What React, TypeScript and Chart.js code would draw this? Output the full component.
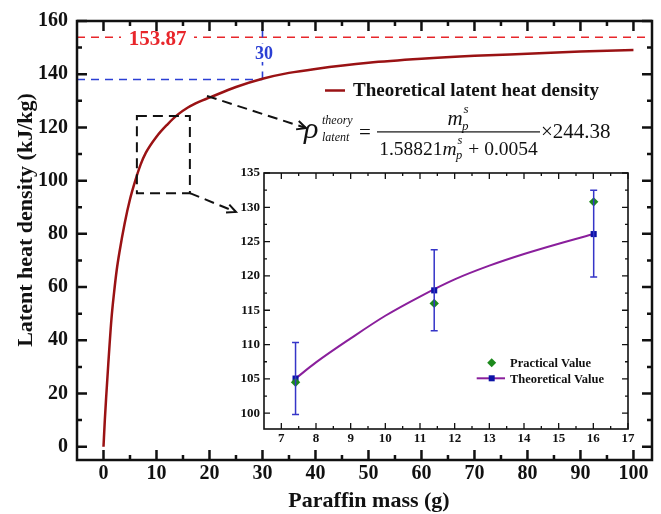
import React, { useEffect, useRef } from "react";
import { Chart, registerables } from "chart.js";

Chart.register(...registerables);

const FONT = '"Liberation Serif", "Times New Roman", Times, serif';

// ---------- main chart data ----------
const paraffinMass = [0, 0.25, 0.5, 0.9, 1.5, 2, 2.5, 3, 4, 5, 6, 7, 8, 10, 12, 14, 16, 18, 20, 25, 30, 35, 40, 50, 60, 70, 80, 90, 100];
const latentHeat = [0, 10, 18.5, 31, 48, 58, 66.5, 73, 84, 93, 100, 106, 110.5, 116.5, 121, 124.8, 127.6, 129.6, 131.2, 135.2, 138.3, 140.5, 142, 144.3, 145.8, 146.9, 147.7, 148.5, 149.1];
const xTickValues = [0, 10, 20, 30, 40, 50, 60, 70, 80, 90, 100];
const xMinorValues = [5, 15, 25, 35, 45, 55, 65, 75, 85, 95];
const yTickValues = [0, 20, 40, 60, 80, 100, 120, 140, 160];
const yMinorValues = [10, 30, 50, 70, 90, 110, 130, 150];
const asymptoteHeat = [153.87];
const markedMass = [30];
const markedHeat = [138];
const asymptoteLabel = ["153.87"];
const markedLabel = ["30"];

// ---------- inset data ----------
const sampleMass = [7.41, 11.41, 16.01];
const practicalValue = [104.5, 116.0, 130.8];
const theoreticalValue = [105.05, 117.9, 126.1];
const errorLow = [99.8, 112.0, 119.85];
const errorHigh = [110.3, 123.8, 132.5];
const insetCurveMass = [7.41, 8, 9, 10, 11, 12, 13, 14, 15, 16.01];
const insetCurveHeat = [105.05, 107.4, 110.9, 114.2, 117.0, 119.5, 121.5, 123.2, 124.7, 126.1];
const insetXTicks = [7, 8, 9, 10, 11, 12, 13, 14, 15, 16, 17];
const insetXMinor = [7.5, 8.5, 9.5, 10.5, 11.5, 12.5, 13.5, 14.5, 15.5, 16.5];
const insetYTicks = [100, 105, 110, 115, 120, 125, 130, 135];
const insetYMinor = [102.5, 107.5, 112.5, 117.5, 122.5, 127.5, 132.5];

const CURVE = "#9a1214";
const RED = "#e8262b";
const BLUE = "#2b3fd4";
const INK = "#111111";
const PURPLE = "#8a1f9c";
const GREEN = "#1d8a1d";
const NAVY = "#0c13a6";
const ERR = "#3535c8";

function drawFrameTicks(ctx, ca, xs, ys, xMaj, xMin, yMaj, yMin, majLen, minLen, lw, tlw) {
  ctx.save();
  ctx.strokeStyle = INK;
  ctx.setLineDash([]);
  ctx.lineWidth = tlw;
  ctx.beginPath();
  const xt = (v, len) => {
    const p = xs.getPixelForValue(v);
    ctx.moveTo(p, ca.bottom);
    ctx.lineTo(p, ca.bottom - len);
    ctx.moveTo(p, ca.top);
    ctx.lineTo(p, ca.top + len);
  };
  const yt = (v, len) => {
    const p = ys.getPixelForValue(v);
    ctx.moveTo(ca.left, p);
    ctx.lineTo(ca.left + len, p);
    ctx.moveTo(ca.right, p);
    ctx.lineTo(ca.right - len, p);
  };
  xMaj.forEach((v) => xt(v, majLen));
  xMin.forEach((v) => xt(v, minLen));
  yMaj.forEach((v) => yt(v, majLen));
  yMin.forEach((v) => yt(v, minLen));
  ctx.stroke();
  ctx.lineWidth = lw;
  ctx.strokeRect(ca.left, ca.top, ca.right - ca.left, ca.bottom - ca.top);
  ctx.restore();
}

function arrow(ctx, x0, y0, x1, y1) {
  ctx.save();
  ctx.strokeStyle = INK;
  ctx.lineWidth = 2;
  ctx.setLineDash([10, 6]);
  ctx.beginPath();
  ctx.moveTo(x0, y0);
  ctx.lineTo(x1, y1);
  ctx.stroke();
  ctx.setLineDash([]);
  const a = Math.atan2(y1 - y0, x1 - x0);
  const L = 10;
  ctx.beginPath();
  ctx.moveTo(x1 - L * Math.cos(a - 0.45), y1 - L * Math.sin(a - 0.45));
  ctx.lineTo(x1, y1);
  ctx.lineTo(x1 - L * Math.cos(a + 0.45), y1 - L * Math.sin(a + 0.45));
  ctx.stroke();
  ctx.restore();
}

function drawMps(ctx, x, base, S, s) {
  ctx.font = `italic ${S}px ${FONT}`;
  ctx.fillText("m", x, base);
  const w = ctx.measureText("m").width;
  ctx.font = `italic ${s}px ${FONT}`;
  ctx.fillText("s", x + w + 1, base - 0.55 * S);
  ctx.fillText("p", x + w - 0.5, base + 0.22 * S);
  return w + Math.max(ctx.measureText("s").width + 1, ctx.measureText("p").width - 0.5) + 1;
}

function measureMps(ctx, S, s) {
  ctx.font = `italic ${S}px ${FONT}`;
  const w = ctx.measureText("m").width;
  ctx.font = `italic ${s}px ${FONT}`;
  return w + Math.max(ctx.measureText("s").width + 1, ctx.measureText("p").width - 0.5) + 1;
}

function drawFormula(ctx) {
  ctx.save();
  ctx.fillStyle = INK;
  ctx.textAlign = "left";
  ctx.textBaseline = "alphabetic";
  ctx.font = `italic 30px ${FONT}`;
  ctx.fillText("ρ", 304, 137.5);
  ctx.font = `italic 12px ${FONT}`;
  ctx.fillText("theory", 322, 124);
  ctx.fillText("latent", 322, 141);
  ctx.font = `21px ${FONT}`;
  ctx.fillText("=", 359, 139);
  const fx0 = 377;
  const fx1 = 540;
  ctx.fillRect(fx0, 131.3, fx1 - fx0, 1.2);
  // numerator
  const nw = measureMps(ctx, 21, 13);
  drawMps(ctx, (fx0 + fx1) / 2 - nw / 2, 125, 21, 13);
  // denominator
  const D = 19.5;
  ctx.font = `${D}px ${FONT}`;
  const w1 = ctx.measureText("1.58821").width;
  const wm = measureMps(ctx, D, 12.5);
  ctx.font = `${D}px ${FONT}`;
  const w2 = ctx.measureText(" + 0.0054").width;
  const total = w1 + wm + w2;
  let dx = (fx0 + fx1) / 2 - total / 2;
  const db = 155;
  ctx.fillText("1.58821", dx, db);
  dx += w1;
  dx += drawMps(ctx, dx, db, D, 12.5);
  ctx.font = `${D}px ${FONT}`;
  ctx.fillText(" + 0.0054", dx, db);
  ctx.font = `21px ${FONT}`;
  ctx.fillText("×244.38", 541, 137.5);
  ctx.restore();
}

const mainDecor = {
  id: "mainDecor",
  beforeDatasetsDraw(chart) {
    const { ctx, chartArea: ca, scales } = chart;
    const xs = scales.x;
    const ys = scales.y;
    ctx.save();
    ctx.lineWidth = 1.6;
    ctx.setLineDash([8, 6]);
    ctx.strokeStyle = RED;
    const yr = ys.getPixelForValue(asymptoteHeat[0]);
    ctx.beginPath();
    ctx.moveTo(ca.left, yr);
    ctx.lineTo(ca.right, yr);
    ctx.stroke();
    ctx.strokeStyle = BLUE;
    const yb = ys.getPixelForValue(markedHeat[0]);
    const xb = xs.getPixelForValue(markedMass[0]);
    ctx.beginPath();
    ctx.moveTo(ca.left, yb);
    ctx.lineTo(xb, yb);
    ctx.moveTo(xb, yb);
    ctx.lineTo(xb, ca.top);
    ctx.stroke();
    ctx.restore();
  },
  afterDraw(chart) {
    const { ctx, chartArea: ca, scales } = chart;
    const xs = scales.x;
    const ys = scales.y;
    ctx.save();
    // red label
    const yr = ys.getPixelForValue(asymptoteHeat[0]);
    ctx.fillStyle = "#fff";
    ctx.fillRect(121, yr - 10, 73, 20);
    ctx.fillStyle = RED;
    ctx.font = `bold 21px ${FONT}`;
    ctx.textAlign = "center";
    ctx.textBaseline = "alphabetic";
    ctx.fillText(asymptoteLabel[0], 157.5, yr + 7.5);
    // blue label
    const xb = xs.getPixelForValue(markedMass[0]);
    ctx.fillStyle = "#fff";
    ctx.fillRect(xb - 10, 44, 22, 18);
    ctx.fillStyle = BLUE;
    ctx.font = `bold 18px ${FONT}`;
    ctx.fillText(markedLabel[0], xb + 1.5, 59);
    ctx.restore();

    drawFrameTicks(ctx, ca, xs, ys, xTickValues, xMinorValues, yTickValues, yMinorValues, 10, 5, 2.5, 2.5);

    // zoom rectangle
    ctx.save();
    ctx.strokeStyle = INK;
    ctx.lineWidth = 2;
    ctx.setLineDash([10, 6]);
    const rx0 = xs.getPixelForValue(6.3);
    const rx1 = xs.getPixelForValue(16.3);
    const ry0 = ys.getPixelForValue(124.3);
    const ry1 = ys.getPixelForValue(95.3);
    ctx.strokeRect(rx0, ry0, rx1 - rx0, ry1 - ry0);
    ctx.restore();
    arrow(ctx, rx1, ry1, 236, 212);
    arrow(ctx, 207, 96, 306, 128);

    // legend
    ctx.save();
    ctx.strokeStyle = CURVE;
    ctx.lineWidth = 2.5;
    ctx.beginPath();
    ctx.moveTo(325, 90.5);
    ctx.lineTo(345, 90.5);
    ctx.stroke();
    ctx.fillStyle = INK;
    ctx.font = `bold 19px ${FONT}`;
    ctx.textAlign = "left";
    ctx.textBaseline = "alphabetic";
    ctx.fillText("Theoretical latent heat density", 353, 96);
    ctx.restore();

    drawFormula(ctx);

    // axis titles
    ctx.save();
    ctx.fillStyle = INK;
    ctx.font = `bold 22px ${FONT}`;
    ctx.textAlign = "center";
    ctx.textBaseline = "alphabetic";
    ctx.fillText("Paraffin mass (g)", 369, 506.5);
    ctx.translate(32, 220);
    ctx.rotate(-Math.PI / 2);
    ctx.fillText("Latent heat density (kJ/kg)", 0, 0);
    ctx.restore();
  },
};

const insetDecor = {
  id: "insetDecor",
  beforeDatasetsDraw(chart) {
    const { ctx, chartArea: ca } = chart;
    ctx.save();
    ctx.fillStyle = "#fff";
    ctx.fillRect(ca.left, ca.top, ca.right - ca.left, ca.bottom - ca.top);
    ctx.restore();
  },
  afterDatasetsDraw(chart) {
    const { ctx, scales } = chart;
    const xs = scales.x;
    const ys = scales.y;
    // error bars
    ctx.save();
    ctx.strokeStyle = ERR;
    ctx.lineWidth = 1.5;
    ctx.beginPath();
    sampleMass.forEach((m, i) => {
      const px = xs.getPixelForValue(m);
      const lo = ys.getPixelForValue(errorLow[i]);
      const hi = ys.getPixelForValue(errorHigh[i]);
      ctx.moveTo(px, lo);
      ctx.lineTo(px, hi);
      ctx.moveTo(px - 3.5, lo);
      ctx.lineTo(px + 3.5, lo);
      ctx.moveTo(px - 3.5, hi);
      ctx.lineTo(px + 3.5, hi);
    });
    ctx.stroke();
    ctx.restore();
  },
  afterDraw(chart) {
    const { ctx, chartArea: ca, scales } = chart;
    drawFrameTicks(ctx, ca, scales.x, scales.y, insetXTicks, insetXMinor, insetYTicks, insetYMinor, 6, 3, 1.6, 1.3);
    // legend
    ctx.save();
    const dx = 266.7;
    const y1 = 202.7;
    const y2 = 218.3;
    ctx.fillStyle = GREEN;
    ctx.beginPath();
    ctx.moveTo(dx, y1 - 4.5);
    ctx.lineTo(dx + 4.5, y1);
    ctx.lineTo(dx, y1 + 4.5);
    ctx.lineTo(dx - 4.5, y1);
    ctx.closePath();
    ctx.fill();
    ctx.strokeStyle = PURPLE;
    ctx.lineWidth = 2;
    ctx.beginPath();
    ctx.moveTo(251.7, y2);
    ctx.lineTo(280, y2);
    ctx.stroke();
    ctx.fillStyle = NAVY;
    ctx.fillRect(dx - 3, y2 - 3, 6, 6);
    ctx.fillStyle = INK;
    ctx.font = `bold 12.5px ${FONT}`;
    ctx.textAlign = "left";
    ctx.textBaseline = "alphabetic";
    ctx.fillText("Practical Value", 285, y1 + 4.3);
    ctx.fillText("Theoretical Value", 285, y2 + 4.3);
    ctx.restore();
  },
};

function tickFont(size) {
  return { family: FONT, size, weight: "bold" as const };
}

export default function App() {
  const mainRef = useRef<HTMLCanvasElement>(null);
  const insetRef = useRef<HTMLCanvasElement>(null);

  useEffect(() => {
    const main = new Chart(mainRef.current as HTMLCanvasElement, {
      type: "line",
      data: {
        datasets: [
          {
            label: "Theoretical latent heat density",
            data: paraffinMass.map((x, i) => ({ x, y: latentHeat[i] })),
            borderColor: CURVE,
            backgroundColor: CURVE,
            borderWidth: 2.5,
            pointRadius: 0,
            cubicInterpolationMode: "monotone",
            fill: false,
          },
        ],
      },
      options: {
        animation: false,
        responsive: false,
        maintainAspectRatio: false,
        layout: { padding: { left: 0, top: 14, right: 9, bottom: 0 } },
        plugins: { legend: { display: false }, tooltip: { enabled: false } },
        scales: {
          x: {
            type: "linear",
            min: -5,
            max: 103.5,
            afterBuildTicks: (s) => {
              s.ticks = xTickValues.map((value) => ({ value }));
            },
            afterFit: (s) => {
              s.height = 54;
            },
            grid: { display: false, drawTicks: false },
            border: { display: false },
            ticks: { font: tickFont(20), color: INK, padding: 2, maxRotation: 0, autoSkip: false },
          },
          y: {
            type: "linear",
            min: -5,
            max: 160,
            afterBuildTicks: (s) => {
              s.ticks = yTickValues.map((value) => ({ value }));
            },
            afterFit: (s) => {
              s.width = 77;
            },
            grid: { display: false, drawTicks: false },
            border: { display: false },
            ticks: { font: tickFont(20), color: INK, padding: 9, autoSkip: false },
          },
        },
      },
      plugins: [mainDecor],
    });

    const inset = new Chart(insetRef.current as HTMLCanvasElement, {
      type: "line",
      data: {
        datasets: [
          {
            label: "Practical Value",
            data: sampleMass.map((x, i) => ({ x, y: practicalValue[i] })),
            showLine: false,
            pointStyle: "rectRot",
            pointRadius: 4.7,
            backgroundColor: GREEN,
            borderColor: GREEN,
            borderWidth: 0,
          },
          {
            label: "Theoretical Value",
            data: sampleMass.map((x, i) => ({ x, y: theoreticalValue[i] })),
            showLine: false,
            pointStyle: "rect",
            pointRadius: 4.3,
            backgroundColor: NAVY,
            borderColor: NAVY,
            borderWidth: 0,
          },
          {
            label: "Theoretical curve",
            data: insetCurveMass.map((x, i) => ({ x, y: insetCurveHeat[i] })),
            borderColor: PURPLE,
            borderWidth: 2,
            pointRadius: 0,
            cubicInterpolationMode: "monotone",
            fill: false,
          },
        ],
      },
      options: {
        animation: false,
        responsive: false,
        maintainAspectRatio: false,
        layout: { padding: { left: 0, top: 13, right: 17, bottom: 0 } },
        plugins: { legend: { display: false }, tooltip: { enabled: false } },
        scales: {
          x: {
            type: "linear",
            min: 6.5,
            max: 17,
            afterBuildTicks: (s) => {
              s.ticks = insetXTicks.map((value) => ({ value }));
            },
            afterFit: (s) => {
              s.height = 26;
            },
            grid: { display: false, drawTicks: false },
            border: { display: false },
            ticks: { font: tickFont(13), color: INK, padding: 2, maxRotation: 0, autoSkip: false },
          },
          y: {
            type: "linear",
            min: 97.7,
            max: 135,
            afterBuildTicks: (s) => {
              s.ticks = insetYTicks.map((value) => ({ value }));
            },
            afterFit: (s) => {
              s.width = 39;
            },
            grid: { display: false, drawTicks: false },
            border: { display: false },
            ticks: { font: tickFont(13), color: INK, padding: 4, autoSkip: false },
          },
        },
      },
      plugins: [insetDecor],
    });

    return () => {
      main.destroy();
      inset.destroy();
    };
  }, []);

  return (
    <div style={{ position: "fixed", left: 0, top: 0, width: 661, height: 514, background: "#fff" }}>
      <canvas ref={mainRef} width={661} height={514} style={{ position: "absolute", left: 0, top: 0 }} />
      <canvas ref={insetRef} width={420} height={295} style={{ position: "absolute", left: 225, top: 160 }} />
    </div>
  );
}
